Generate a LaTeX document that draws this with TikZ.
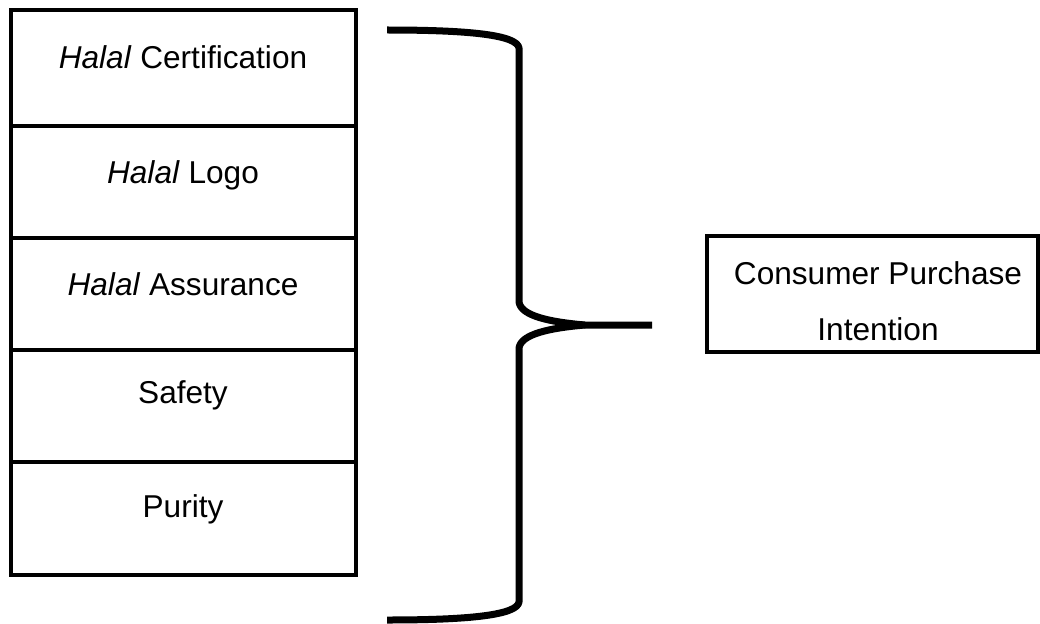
\documentclass[tikz,border=0pt]{standalone}
\usepackage{fontspec}
\setmainfont{Liberation Sans}
\begin{document}
\begin{tikzpicture}[x=1pt,y=-1pt,
  factorbox/.style={draw=black,line width=3.3pt,fill=none},
  lbl/.style={anchor=base,inner sep=0pt,font=\fontsize{31.6}{38}\selectfont},
  brace/.style={draw=black,line width=7pt,line join=round}]
\useasboundingbox (0,0) rectangle (1040,623);
% left stack of boxes
\draw[factorbox] (11,10) rectangle (356,126);
\draw[factorbox] (11,126) rectangle (356,238);
\draw[factorbox] (11,238) rectangle (356,350);
\draw[factorbox] (11,350) rectangle (356,462);
\draw[factorbox] (11,462) rectangle (356,575);
\node[lbl] (t1) at (183,69) {\textit{Halal} Certification};
\node[lbl] (t2) at (183,183) {\textit{Halal} Logo};
\node[lbl] (t3) at (183,295) {\textit{Halal} Assurance};
\node[lbl] (t4) at (183,403) {Safety};
\node[lbl] (t5) at (183,517) {Purity};
% right box
\draw[factorbox] (707,236) rectangle (1038,352);
\node[lbl] (r1) at (878,284) {Consumer Purchase};
\node[lbl] (r2) at (878,340) {Intention};
% brace
\coordinate (btop) at (387,30);
\coordinate (bbot) at (387,620);
\coordinate (btip) at (652,325);
\draw[brace] (btop) .. controls (470,30) and (517,35) .. (519,48)
  -- (519,302) .. controls (521,316) and (550,322) .. (585,325)
  -- (btip);
\draw[brace] (585,325) .. controls (550,328) and (521,334) .. (519,348)
  -- (519,602) .. controls (517,615) and (470,620) .. (bbot);
\end{tikzpicture}
\end{document}
